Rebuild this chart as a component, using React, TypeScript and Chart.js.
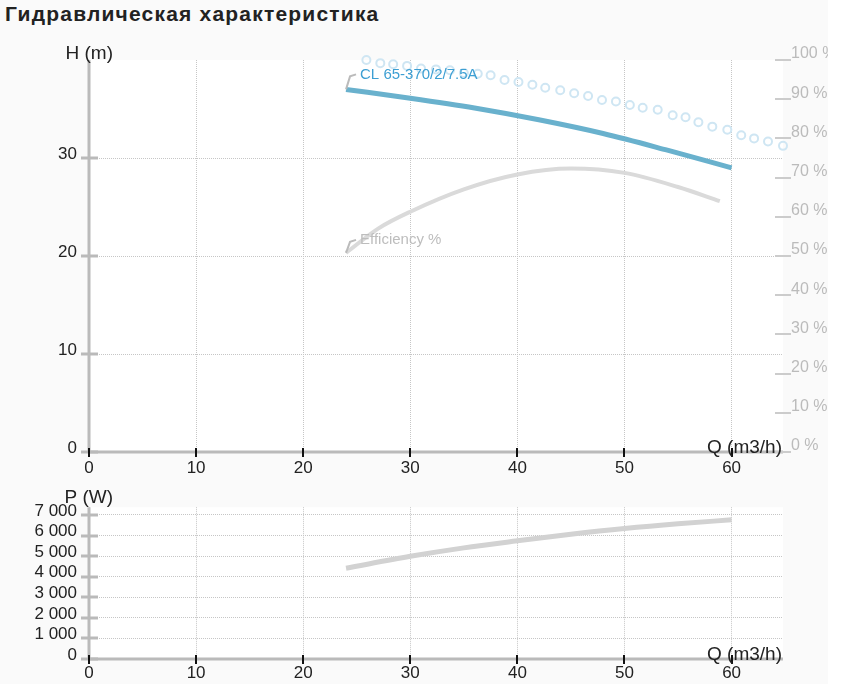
import { useEffect, useRef } from "react"
import { Chart, registerables } from "chart.js"

Chart.register(...registerables)

const FONT = '"Liberation Sans", Arial, sans-serif'
Chart.defaults.font.family = FONT

// tick values
const flowTicks = [0, 10, 20, 30, 40, 50, 60]
const headTicks = [0, 10, 20, 30]
const pctTicks = [0, 10, 20, 30, 40, 50, 60, 70, 80, 90, 100]
const powerTicks = [0, 1000, 2000, 3000, 4000, 5000, 6000, 7000]

// head curve H(Q)
const flowH = [24, 30, 36, 42, 48, 54, 60]
const headH = [37.0, 36.1, 35.1, 33.9, 32.5, 30.8, 29.0]

// efficiency, %
const flowEff = [24, 27, 30, 35, 40, 45, 50, 55, 58.9]
const efficiency = [50.8, 57.0, 61.3, 67.0, 70.8, 72.3, 71.2, 67.6, 64.0]

// circle markers, %
const flowDots = [
  25.9, 27.2, 28.4, 29.7, 31.0, 32.4, 33.7, 35.0, 36.3, 37.5, 38.8, 40.1, 41.4, 42.6, 44.0, 45.3,
  46.6, 47.9, 49.2, 50.5, 51.7, 53.1, 54.5, 55.7, 56.9, 58.2, 59.6, 60.9, 62.1, 63.4, 64.8,
]
const dotsPct = [
  100.0, 99.2, 98.9, 98.5, 97.8, 97.6, 97.4, 96.7, 96.5, 96.1, 94.9, 94.4, 93.7, 92.9, 92.3, 91.5,
  90.8, 89.8, 89.4, 88.5, 87.8, 87.3, 85.9, 85.4, 84.1, 83.0, 82.2, 80.8, 80.0, 79.2, 78.1,
]

// power P(Q)
const flowP = [24, 30, 35, 40, 45, 50, 55, 60]
const powerW = [4410, 4990, 5400, 5740, 6060, 6340, 6570, 6760]

const pumpName = "CL 65-370/2/7.5A"
const effName = "Efficiency %"

const pts = (xs: number[], ys: number[]) => xs.map((x, i) => ({ x, y: ys[i] }))

const thousands = (v: number) => String(v).replace(/\B(?=(\d{3})+(?!\d))/g, " ")

const setTicks = (values: number[]) => (s: any) => {
  s.ticks = values.map((value) => ({ value }))
}

const GRID = "#c6c6c6"
const DASH = [1, 1]

const decor = (o: {
  yId: string
  yTitle: string
  yTitleDy: number
  xTitle: string
  pct?: boolean
  labels?: boolean
}) => ({
  id: "decor",
  beforeDraw(chart: any) {
    const { ctx, chartArea: a } = chart
    ctx.save()
    ctx.fillStyle = "#ffffff"
    ctx.fillRect(a.left, a.top, a.right - a.left, a.bottom - a.top)
    ctx.restore()
  },
  beforeDatasetsDraw(chart: any) {
    const { ctx, chartArea: a, scales } = chart
    const x = scales.x
    const y = scales[o.yId]
    ctx.save()
    ctx.strokeStyle = "#bababa"
    ctx.lineWidth = 3
    ctx.beginPath()
    ctx.moveTo(a.left, a.top)
    ctx.lineTo(a.left, a.bottom)
    ctx.moveTo(a.left, a.bottom)
    ctx.lineTo(a.right, a.bottom)
    ctx.stroke()
    y.ticks.forEach((t: any) => {
      const py = Math.round(y.getPixelForValue(t.value))
      ctx.beginPath()
      ctx.moveTo(a.left - 8, py)
      ctx.lineTo(a.left + 9, py)
      ctx.stroke()
    })
    if (o.pct) {
      const p = scales.pct
      ctx.strokeStyle = "#cccccc"
      ctx.lineWidth = 2
      p.ticks.forEach((t: any) => {
        const py = Math.round(p.getPixelForValue(t.value))
        ctx.beginPath()
        ctx.moveTo(a.right - 8, py)
        ctx.lineTo(a.right + 8, py)
        ctx.stroke()
      })
    }
    ctx.strokeStyle = "#111111"
    ctx.lineWidth = 2
    x.ticks.forEach((t: any) => {
      const px = Math.round(x.getPixelForValue(t.value))
      ctx.beginPath()
      ctx.moveTo(px, a.bottom - 4)
      ctx.lineTo(px, a.bottom + 5)
      ctx.stroke()
    })
    ctx.restore()
  },
  afterDatasetsDraw(chart: any) {
    const { ctx, chartArea: a, scales } = chart
    ctx.save()
    ctx.font = `19px ${FONT}`
    ctx.fillStyle = "#222222"
    ctx.textAlign = "right"
    ctx.textBaseline = "middle"
    ctx.fillText(o.yTitle, a.left + 24, a.top + o.yTitleDy)
    ctx.textBaseline = "alphabetic"
    ctx.fillText(o.xTitle, a.right - 1, a.bottom + 1)

    if (o.labels) {
      const label = (ds: number, yId: string, text: string, color: string, dy: number) => {
        const d = chart.data.datasets[ds].data[0]
        const px = scales.x.getPixelForValue(d.x)
        const py = scales[yId].getPixelForValue(d.y)
        ctx.strokeStyle = "#bbbbbb"
        ctx.lineWidth = 2
        ctx.beginPath()
        ctx.moveTo(px, py)
        ctx.lineTo(px + 4, py - dy + 2)
        ctx.lineTo(px + 10, py - dy)
        ctx.stroke()
        ctx.font = `15px ${FONT}`
        ctx.fillStyle = color
        ctx.textAlign = "left"
        ctx.textBaseline = "middle"
        ctx.fillText(text, px + 14, py - dy)
      }
      label(0, "h", pumpName, "#3d9fd3", 15)
      label(1, "pct", effName, "#bdbdbd", 13)
    }
    ctx.restore()
  },
})

const xScale = (height: number, pad: number) => ({
  type: "linear",
  min: 0,
  max: 64.8,
  afterBuildTicks: setTicks(flowTicks),
  afterFit: (s: any) => {
    s.height = height
  },
  grid: { color: GRID, lineWidth: 1, drawTicks: false },
  border: { display: false, dash: DASH },
  ticks: { autoSkip: false, color: "#222222", font: { size: 17 }, padding: pad, maxRotation: 0 },
})

const topConfig = () => ({
  type: "line",
  data: {
    datasets: [
      {
        data: pts(flowH, headH),
        yAxisID: "h",
        borderColor: "#69b1cd",
        borderWidth: 5,
        pointRadius: 0,
        cubicInterpolationMode: "monotone",
      },
      {
        data: pts(flowEff, efficiency),
        yAxisID: "pct",
        borderColor: "#dadada",
        borderWidth: 4,
        pointRadius: 0,
        cubicInterpolationMode: "monotone",
      },
      {
        data: pts(flowDots, dotsPct),
        yAxisID: "pct",
        showLine: false,
        pointRadius: 4,
        pointBorderWidth: 2,
        pointBorderColor: "#cfe6f3",
        pointBackgroundColor: "rgba(0,0,0,0)",
        clip: false,
      },
    ],
  },
  options: {
    responsive: false,
    animation: false,
    layout: { padding: { top: 30, left: 0, right: 0, bottom: 0 } },
    plugins: { legend: { display: false }, tooltip: { enabled: false } },
    scales: {
      x: xScale(33, 6),
      h: {
        type: "linear",
        position: "left",
        min: 0,
        max: 40,
        afterBuildTicks: setTicks(headTicks),
        afterFit: (s: any) => {
          s.width = 89
        },
        grid: { color: GRID, lineWidth: 1, drawTicks: false },
        border: { display: false, dash: DASH },
        ticks: { autoSkip: false, color: "#222222", font: { size: 17 }, padding: 12, labelOffset: -4 },
      },
      pct: {
        type: "linear",
        position: "right",
        min: 0,
        max: 100,
        afterBuildTicks: setTicks(pctTicks),
        afterFit: (s: any) => {
          s.width = 45
        },
        grid: { drawOnChartArea: false, drawTicks: false },
        border: { display: false },
        ticks: {
          autoSkip: false,
          color: "#bbbbbb",
          font: { size: 16 },
          padding: 8,
          labelOffset: -6,
          callback: (v: number) => `${v} %`,
        },
      },
    },
  },
  plugins: [decor({ yId: "h", yTitle: "H (m)", yTitleDy: -6, xTitle: "Q (m3/h)", pct: true, labels: true })],
})

const bottomConfig = () => ({
  type: "line",
  data: {
    datasets: [
      {
        data: pts(flowP, powerW),
        yAxisID: "p",
        borderColor: "#d2d2d2",
        borderWidth: 5,
        pointRadius: 0,
        cubicInterpolationMode: "monotone",
      },
    ],
  },
  options: {
    responsive: false,
    animation: false,
    layout: { padding: { top: 18, left: 0, right: 45, bottom: 0 } },
    plugins: { legend: { display: false }, tooltip: { enabled: false } },
    scales: {
      x: xScale(25, 4),
      p: {
        type: "linear",
        position: "left",
        min: 0,
        max: 7375,
        afterBuildTicks: setTicks(powerTicks),
        afterFit: (s: any) => {
          s.width = 89
        },
        grid: { color: GRID, lineWidth: 1, drawTicks: false },
        border: { display: false, dash: DASH },
        ticks: {
          autoSkip: false,
          color: "#222222",
          font: { size: 17 },
          padding: 12,
          labelOffset: -4,
          callback: (v: number) => thousands(v),
        },
      },
    },
  },
  plugins: [decor({ yId: "p", yTitle: "P (W)", yTitleDy: -9, xTitle: "Q (m3/h)" })],
})

const ChartCanvas = ({ config, left, top, width, height }: any) => {
  const ref = useRef<HTMLCanvasElement>(null)
  useEffect(() => {
    if (!ref.current) return
    const chart = new Chart(ref.current, config())
    return () => chart.destroy()
  }, [config])
  return (
    <canvas
      ref={ref}
      width={width}
      height={height}
      style={{ position: "absolute", left, top, width, height }}
    />
  )
}

export default function App() {
  return (
    <div style={{ position: "absolute", left: 0, top: 0, width: 843, height: 684, background: "#fff", overflow: "hidden" }}>
      <div style={{ position: "absolute", left: 0, top: 0, width: 828, height: 684, background: "#fafafa" }} />
      <div
        style={{
          position: "absolute",
          left: 5,
          top: 0,
          font: `bold 21px ${FONT}`,
          lineHeight: "28px",
          letterSpacing: "1.2px",
          color: "#222",
          whiteSpace: "nowrap",
        }}
      >
        Гидравлическая характеристика
      </div>
      <ChartCanvas config={topConfig} left={0} top={30} width={828} height={455} />
      <ChartCanvas config={bottomConfig} left={0} top={485} width={828} height={199} />
    </div>
  )
}
